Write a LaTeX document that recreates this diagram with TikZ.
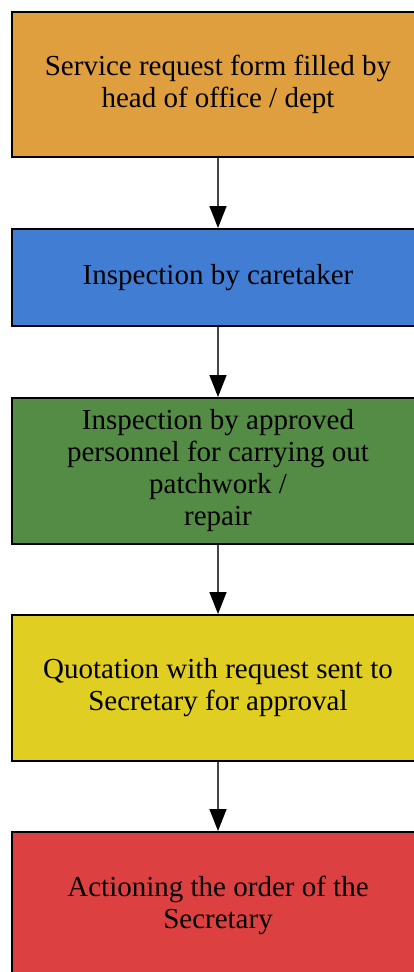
\documentclass[tikz,border=0pt]{standalone}
\usepackage{fontspec}
\setmainfont{Liberation Serif}
\usetikzlibrary{arrows.meta}
\definecolor{cOrange}{RGB}{224,159,62}
\definecolor{cBlue}{RGB}{66,125,212}
\definecolor{cGreen}{RGB}{84,140,69}
\definecolor{cYellow}{RGB}{224,206,34}
\definecolor{cRed}{RGB}{220,64,64}
\definecolor{cLine}{RGB}{70,70,70}
\tikzset{
  stepbox/.style={draw=black, line width=2pt, minimum width=412pt, align=center,
    inner sep=0pt, font=\fontsize{29}{32}\selectfont},
  flow/.style={draw=cLine, line width=1.5pt, -{Triangle[width=17pt,length=22pt,fill=black,color=black]}}
}
\begin{document}
\begin{tikzpicture}[x=1pt,y=-1pt]
\useasboundingbox (0,0) rectangle (414,972);
\clip (0,0) rectangle (414,972);
\node[stepbox, fill=cOrange, minimum height=145pt] (b1) at (218,84.5)
  {Service request form filled by\\head of office / dept};
\node[stepbox, fill=cBlue, minimum height=97pt] (b2) at (218,277.5)
  {Inspection by caretaker};
\node[stepbox, fill=cGreen, minimum height=146pt] (b3) at (218,471)
  {Inspection by approved\\personnel for carrying out\\patchwork /\\repair};
\node[stepbox, fill=cYellow, minimum height=146pt] (b4) at (218,688)
  {Quotation with request sent to\\Secretary for approval};
\node[stepbox, fill=cRed, minimum height=146pt] (b5) at (218,905)
  {Actioning the order of the\\Secretary};
\draw[flow] (b1.south) -- (b2.north);
\draw[flow] (b2.south) -- (b3.north);
\draw[flow] (b3.south) -- (b4.north);
\draw[flow] (b4.south) -- (b5.north);
\end{tikzpicture}
\end{document}
